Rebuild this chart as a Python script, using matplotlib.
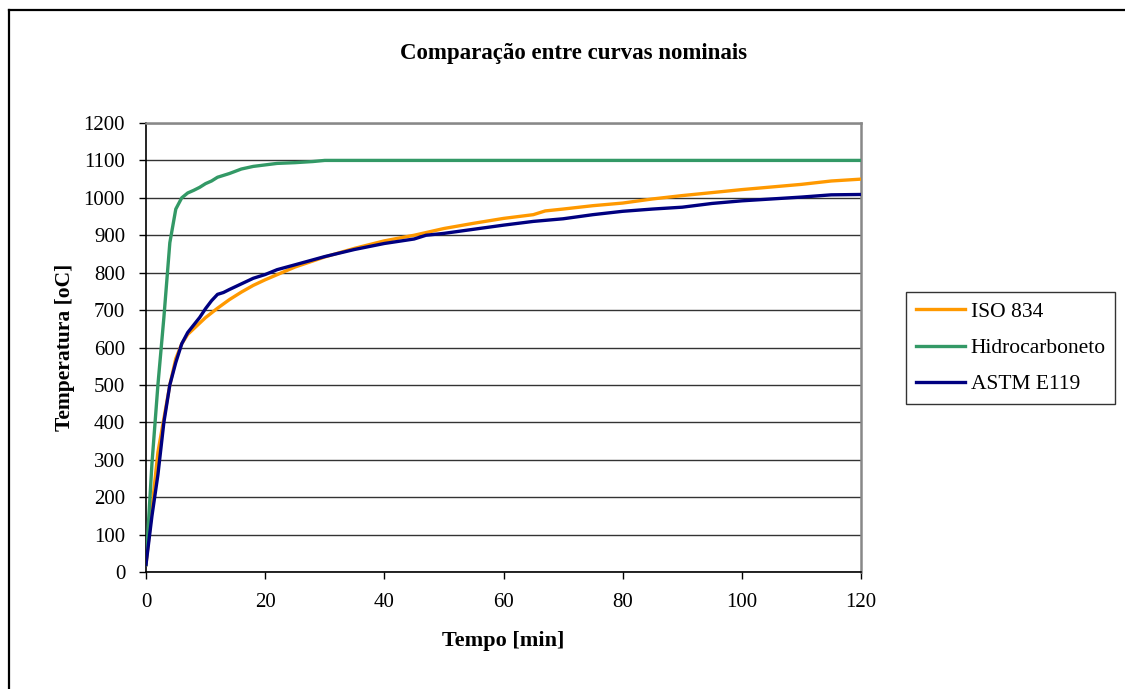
import matplotlib
matplotlib.use("Agg")
import matplotlib.pyplot as plt
from matplotlib.lines import Line2D

plt.rcParams['font.family'] = ['Liberation Serif', 'DejaVu Serif']

# ---- data ----
t_iso = [0, 1, 2, 3, 4, 5, 6, 7, 8, 9, 10, 12, 14, 16, 18, 20, 25, 30, 35, 40,
         45, 50, 55, 60, 65, 67, 70, 75, 80, 85, 90, 95, 100, 105, 110, 115, 120]
iso834 = [20, 170, 320, 410, 500, 570, 610, 635, 650, 665, 680, 705, 728, 748, 766,
          781, 815, 842, 865, 885, 900, 918, 932, 945, 955, 965, 970, 979, 986, 997,
          1006, 1014, 1022, 1029, 1036, 1045, 1050]

t_hc = [0, 1, 2, 3, 4, 5, 6, 7, 8, 9, 10, 11, 12, 14, 16, 18, 20, 22, 25, 28, 30,
        40, 50, 60, 70, 80, 90, 100, 110, 120]
hidrocarboneto = [20, 290, 500, 680, 880, 970, 1000, 1013, 1020, 1028, 1038, 1045,
                  1055, 1065, 1077, 1084, 1088, 1092, 1094, 1097, 1100, 1100, 1100,
                  1100, 1100, 1100, 1100, 1100, 1100, 1100]

t_astm = [0, 1, 2, 3, 4, 5, 6, 7, 8, 9, 10, 11, 12, 13, 14, 16, 18, 20, 22, 25, 30,
          35, 40, 45, 47, 50, 55, 60, 65, 70, 75, 80, 85, 90, 95, 100, 105, 110, 115, 120]
astm_e119 = [20, 150, 260, 400, 500, 560, 610, 640, 660, 680, 704, 725, 742, 747, 755,
             770, 785, 795, 808, 821, 843, 862, 878, 890, 900, 905, 916, 927, 937, 944,
             955, 964, 970, 975, 985, 992, 997, 1002, 1008, 1009]

series_names = ["ISO 834", "Hidrocarboneto", "ASTM E119"]
series_colors = ["#FF9900", "#339966", "#000080"]

x_ticks = [0, 20, 40, 60, 80, 100, 120]
y_ticks = list(range(0, 1201, 100))

title = "Comparação entre curvas nominais"
xlabel = "Tempo [min]"
ylabel = "Temperatura [oC]"

# ---- figure ----
W, H = 1125, 689
fig = plt.figure(figsize=(W / 100, H / 100), dpi=100)
fig.patch.set_facecolor("white")

ax = fig.add_axes([146 / W, 1 - 572 / H, (861 - 146) / W, (572 - 123) / H])

for xs, ys, name, col in zip([t_iso, t_hc, t_astm],
                             [iso834, hidrocarboneto, astm_e119],
                             series_names, series_colors):
    ax.plot(xs, ys, color=col, lw=2.4, label=name, solid_joinstyle="round", zorder=3)

ax.set_xlim(0, 120)
ax.set_ylim(0, 1200)
ax.set_xticks(x_ticks)
ax.set_yticks(y_ticks)
ax.tick_params(axis="both", direction="out", length=5, width=1, labelsize=15,
               color="black")
ax.tick_params(axis="y", pad=10)
ax.tick_params(axis="x", pad=10)
ax.yaxis.grid(True, color="#333333", lw=1.0, zorder=1)
ax.set_axisbelow(True)

for side in ["left", "bottom"]:
    ax.spines[side].set_color("black")
    ax.spines[side].set_linewidth(1.2)
for side in ["top", "right"]:
    ax.spines[side].set_color("#888888")
    ax.spines[side].set_linewidth(1.8)

ax.set_xlabel(xlabel, fontsize=16, fontweight="bold", labelpad=14)
ax.set_ylabel(ylabel, fontsize=15.5, fontweight="bold", labelpad=6)

fig.text(573 / W, 1 - 54 / H, title, ha="center", va="center",
         fontsize=16.5, fontweight="bold")

leg = ax.legend(loc="center left", bbox_to_anchor=(906 / W, 1 - 348 / H),
                bbox_transform=fig.transFigure, fontsize=15.5, frameon=True,
                fancybox=False, edgecolor="black", borderpad=0.45,
                labelspacing=0.75, handlelength=2.3, handletextpad=0.25,
                borderaxespad=0)
leg.get_frame().set_linewidth(1.0)

# outer border (top and left visible)
fig.add_artist(Line2D([9 / W, 9 / W], [1 - 10 / H, -0.1], color="black", lw=1.6,
                      transform=fig.transFigure))
fig.add_artist(Line2D([9 / W, 1.1], [1 - 10 / H, 1 - 10 / H], color="black", lw=1.6,
                      transform=fig.transFigure))

fig.savefig("out.png", dpi=100)
